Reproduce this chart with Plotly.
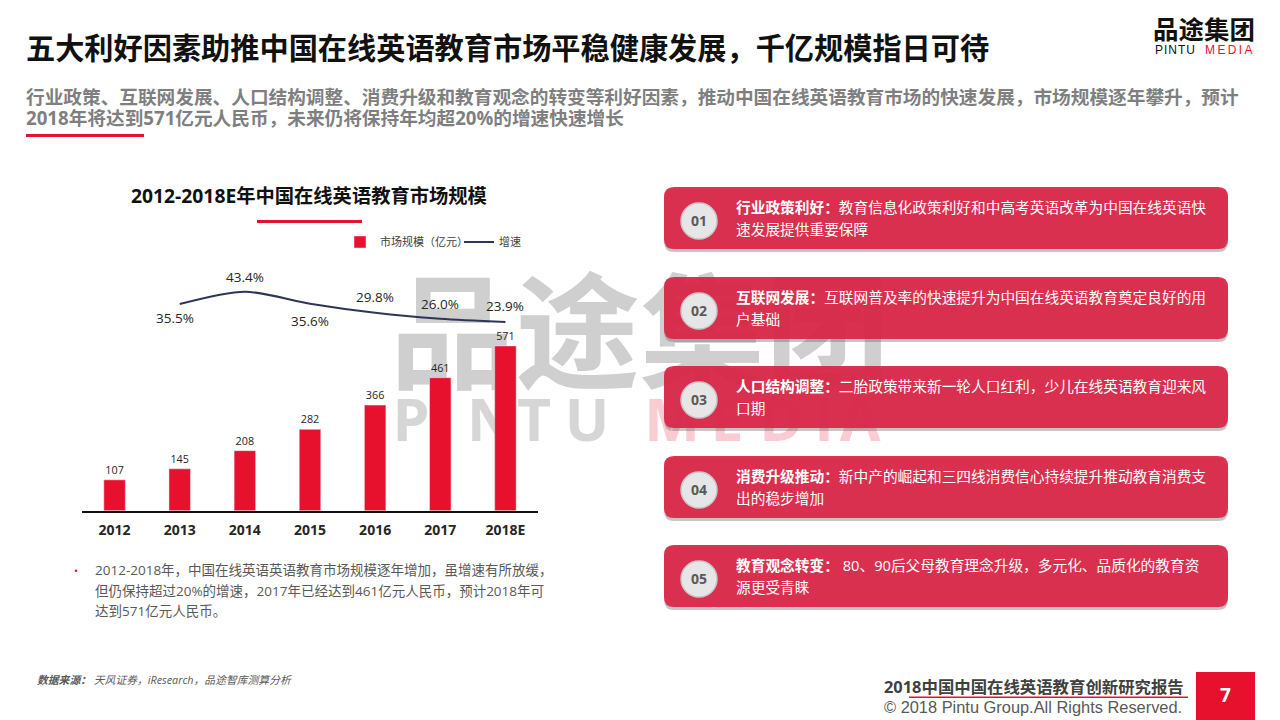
import plotly.express as px
import pandas as pd

RED = '#E8112D'
CARD = 'rgba(218,38,72,0.94)'
CJK = 'Open Sans, Noto Sans CJK SC'
ARIAL = 'Liberation Sans'

years = ['2012', '2013', '2014', '2015', '2016', '2017', '2018E']
market_size = [107, 145, 208, 282, 366, 461, 571]
growth_years = ['2013', '2014', '2015', '2016', '2017', '2018E']
growth = [35.5, 43.4, 35.6, 29.8, 26.0, 23.9]
growth_labels = ['35.5%', '43.4%', '35.6%', '29.8%', '26.0%', '23.9%']
growth_xshift = [-5, 0, 0, 0, 0, 0]
growth_yshift = [-14, 15, -17, 16, 15, 16]

card_numbers = ['01', '02', '03', '04', '05']
card_heads = ['行业政策利好：', '互联网发展：', '人口结构调整：', '消费升级推动：', '教育观念转变：']
card_first = ['教育信息化政策利好和中高考英语改革为中国在线英语快',
              '互联网普及率的快速提升为中国在线英语教育奠定良好的用',
              '二胎政策带来新一轮人口红利，少儿在线英语教育迎来风',
              '新中产的崛起和三四线消费信心持续提升推动教育消费支',
              ' 80、90后父母教育理念升级，多元化、品质化的教育资']
card_second = ['速发展提供重要保障', '户基础', '口期', '出的稳步增加', '源更受青睐']
card_top = [187, 277, 366, 456, 545]

df = pd.DataFrame({'year': years, 'size': market_size})

fig = px.bar(df, x='year', y='size', text='size',
             color_discrete_sequence=[RED],
             )
fig.update_traces(xaxis='x2', yaxis='y2', width=0.33, name='市场规模（亿元）', showlegend=True,
                  textposition='outside', cliponaxis=False,
                  textfont=dict(size=10.8, color='#262626'))

fig.add_scatter(x=growth_years, y=growth, xaxis='x2', yaxis='y3', name='增速', mode='lines',
                line=dict(color='#2F3559', width=2, shape='spline', smoothing=0.8))

# watermark sits in the first subplot so the bars draw over it
fig.add_scatter(x=[640], y=[348], xaxis='x', yaxis='y', mode='text', text=['品途集团'], showlegend=False,
                textfont=dict(size=125, color='#CFCFCF', family=CJK, weight='bold'), hoverinfo='skip')
fig.add_scatter(x=[411, 442, 491, 534, 587], y=[426] * 5, xaxis='x', yaxis='y', mode='text',
                text=list('PINTU'), showlegend=False,
                textfont=dict(size=59, color='#D6D6D6', family='Open Sans', weight='bold'), hoverinfo='skip')
fig.add_scatter(x=[672, 727, 781, 824, 860], y=[426] * 5, xaxis='x', yaxis='y', mode='text',
                text=list('MEDIA'), showlegend=False,
                textfont=dict(size=59, color='#FBCBD3', family='Open Sans', weight='bold'), hoverinfo='skip')


def note(x, y, text, size, color='#262626', anchor='left', family=CJK):
  shift = -2 if anchor == 'left' else 0
  fig.add_annotation(x=x, y=y, xref='x', yref='y', text=text, showarrow=False, xanchor=anchor, yanchor='middle',
                     xshift=shift, yshift=1, font=dict(size=size, color=color, family=family))


def rounded(x0, y0, x1, y1, r):
  return (f'M{x0+r},{y0} L{x1-r},{y0} Q{x1},{y0} {x1},{y0+r} L{x1},{y1-r} Q{x1},{y1} {x1-r},{y1} '
          f'L{x0+r},{y1} Q{x0},{y1} {x0},{y1-r} L{x0},{y0+r} Q{x0},{y0} {x0+r},{y0} Z')


def block(x0, y0, x1, y1, color):
  fig.add_shape(type='rect', x0=x0, y0=y0, x1=x1, y1=y1, xref='x', yref='y', fillcolor=color, line_width=0, layer='above')


# growth labels, numeric-looking categories have to go in by position
for i in range(len(growth)):
  fig.add_annotation(x=years.index(growth_years[i]), y=growth[i], xref='x2', yref='y3', text=growth_labels[i], showarrow=False,
                     xshift=growth_xshift[i], yshift=growth_yshift[i], font=dict(size=13.5, color='#262626', family=CJK))

# header
note(26, 49, '<b>五大利好因素助推中国在线英语教育市场平稳健康发展，千亿规模指日可待</b>', 29.2, '#111111')
note(26, 97, '<b>行业政策、互联网发展、人口结构调整、消费升级和教育观念的转变等利好因素，推动中国在线英语教育市场的快速发展，市场规模逐年攀升，预计</b>', 18.66, '#7F7F7F')
note(26, 118, '<b>2018年将达到571亿元人民币，未来仍将保持年均超20%的增速快速增长</b>', 18.66, '#7F7F7F')
block(26, 134, 144, 137, RED)

# logo
note(1204, 30, '<b>品途集团</b>', 25.5, '#111111', 'center')
note(1155, 51, 'P\u200aI\u200aN\u200aT\u200aU', 12, '#111111', 'left', ARIAL)
note(1255, 51, 'M\u2009E\u2009D\u2009I\u2009A', 12, RED, 'right', ARIAL)

# chart title
note(309, 196, '<b>2012-2018E年中国在线英语教育市场规模</b>', 19.3, '#111111', 'center')
block(257, 220, 362, 223, RED)

# bullet text
note(74, 571, '•', 11, RED)
note(95, 571, '2012-2018年，中国在线英语英语教育市场规模逐年增加，虽增速有所放缓，', 13.5, '#595959')
note(95, 592, '但仍保持超过20%的增速，2017年已经达到461亿元人民币，预计2018年可', 13.5, '#595959')
note(95, 612, '达到571亿元人民币。', 13.5, '#595959')

# cards
for i in range(len(card_numbers)):
  top = card_top[i]
  fig.add_shape(type='path', path=rounded(664, top + 2, 1228, top + 65, 10), xref='x', yref='y',
                fillcolor='rgba(90,90,90,0.35)', line_width=0, layer='above')
  fig.add_shape(type='path', path=rounded(664, top, 1228, top + 62, 10), xref='x', yref='y',
                fillcolor=CARD, line_width=0, layer='above')
  fig.add_shape(type='circle', x0=681, y0=top + 16, x1=717, y1=top + 52, xref='x', yref='y',
                fillcolor='#E6E6E6', line=dict(color='#C8C8C8', width=1.5), layer='above')
  note(699, top + 34, '<b>' + card_numbers[i] + '</b>', 14, '#595959', 'center')
  note(736, top + 21, '<b>' + card_heads[i] + '</b>' + card_first[i], 14.7, '#FFFFFF')
  note(736, top + 43, card_second[i], 14.7, '#FFFFFF')

# footer
note(37, 680, '<b><i>数据来源：</i></b><i> 天风证券，iResearch，品途智库测算分析</i>', 10.8, '#595959')
note(884, 687, '<b>2018中国中国在线英语教育创新研究报告</b>', 16.4, '#404040')
block(909, 696.5, 1188, 698, RED)
note(884, 708, '© 2018 Pintu Group.All Rights Reserved.', 16.4, '#595959', 'left', ARIAL)
block(1196, 672, 1255, 720, RED)
note(1225, 696, '<b>7</b>', 19, '#FFFFFF', 'center')

fig.update_layout(width=1280, height=720, margin=dict(t=0, l=0, r=0, b=0),
                  paper_bgcolor='white', plot_bgcolor='rgba(0,0,0,0)',
                  font=dict(family=CJK),
                  xaxis=dict(range=[0, 1280], domain=[0, 1], visible=False),
                  yaxis=dict(range=[720, 0], domain=[0, 1], visible=False),
                  xaxis2=dict(domain=[82 / 1280, 538 / 1280], anchor='y2', type='category', categoryorder='array',
                              categoryarray=years, range=[-0.5, 6.5], showline=True, linecolor='#111111', linewidth=2,
                              ticklabelstandoff=5, showgrid=False, title=None,
                              tickfont=dict(size=14, color='#262626', family=CJK, weight='bold')),
                  yaxis2=dict(domain=[209.3 / 720, 480 / 720], anchor='x2', range=[0, 938], visible=False),
                  yaxis3=dict(domain=[209.3 / 720, 480 / 720], anchor='x2', overlaying='y2', range=[-97, 76.5], visible=False),
                  legend=dict(orientation='h', x=340 / 1280, y=(720 - 242) / 720, xanchor='left', yanchor='middle',
                              entrywidth=74, entrywidthmode='pixels',
                              font=dict(size=11, color='#404040'), bgcolor='rgba(0,0,0,0)'),
                  )

fig.write_html("out.html", config={'displayModeBar': False}, post_script="document.body.style.margin='0'")
